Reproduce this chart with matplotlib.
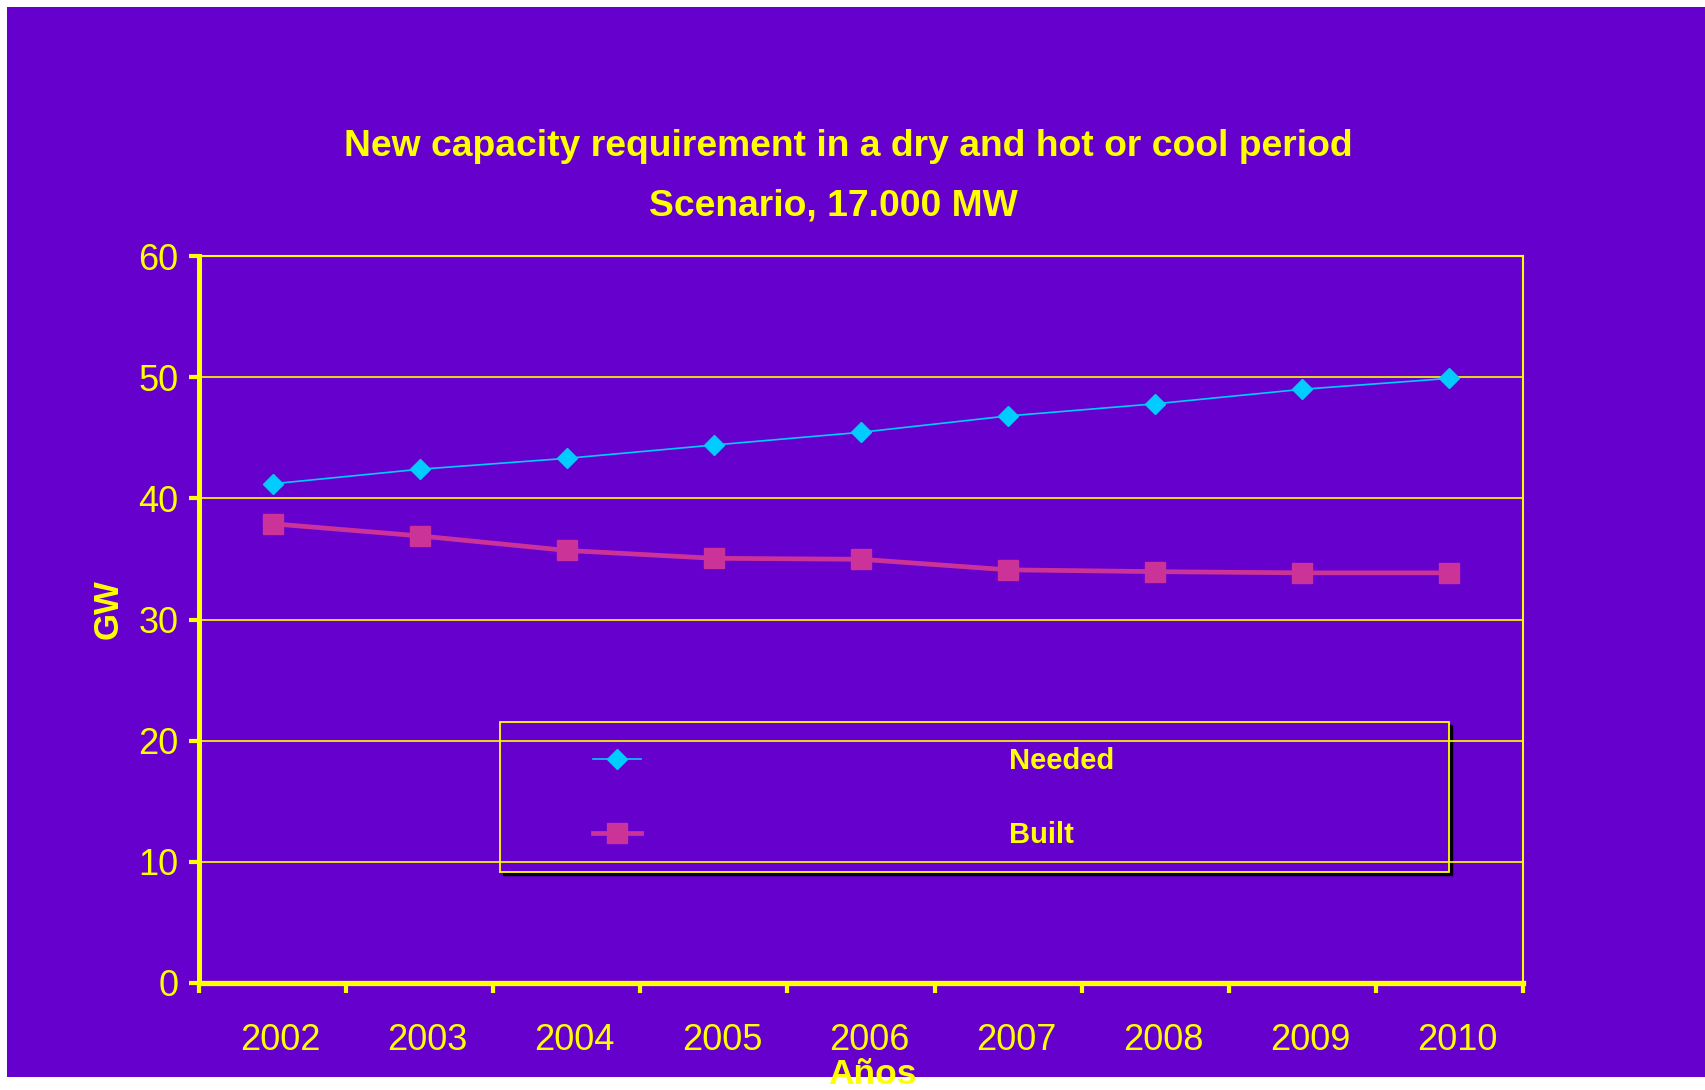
import numpy as np
import matplotlib
matplotlib.use("Agg")
import matplotlib.pyplot as plt
from matplotlib.patches import Rectangle
from matplotlib.transforms import ScaledTranslation

plt.rcParams['font.family'] = ['Liberation Sans', 'DejaVu Sans']

PURPLE = '#6600CC'
YELLOW = '#FFFF00'
CYAN = '#00CCFF'
MAGENTA = '#CC3399'

years = ['2002', '2003', '2004', '2005', '2006', '2007', '2008', '2009', '2010']
needed = [41.2, 42.4, 43.3, 44.4, 45.45, 46.8, 47.8, 49.0, 49.9]
built = [37.9, 36.9, 35.7, 35.05, 34.97, 34.1, 33.95, 33.85, 33.85]
yticks = [0, 10, 20, 30, 40, 50, 60]

W, H = 1705, 1090
fig = plt.figure(figsize=(W / 100, H / 100), dpi=100, facecolor='white')

# purple slide panel behind everything
fig.add_artist(Rectangle((7 / W, 13 / H), (W - 7) / W, 1070 / H,
                         transform=fig.transFigure, facecolor=PURPLE,
                         edgecolor='none', zorder=0))

ax = fig.add_axes([199 / W, 107 / H, 1324 / W, 727 / H])
ax.set_facecolor(PURPLE)

x = np.arange(len(years))
ax.plot(x, needed, color=CYAN, lw=1.2, marker='D', ms=10.5, zorder=3,
        label='Needed')
ax.plot(x, built, color=MAGENTA, lw=3.4, marker='s', ms=13.7, zorder=3,
        label='Built')

ax.set_xlim(-0.5, len(years) - 0.5)
ax.set_ylim(0, 60)

ax.set_xticks(x)
ax.set_xticklabels(years)
ax.set_xticks(np.arange(-0.5, len(years), 1), minor=True)
ax.tick_params(axis='x', which='major', length=0, pad=29, labelsize=26,
               labelcolor=YELLOW)
ax.tick_params(axis='x', which='minor', length=7, width=3, color=YELLOW,
               direction='out')
shift = ScaledTranslation(8 / 100, 0, fig.dpi_scale_trans)
for lbl in ax.get_xticklabels():
    lbl.set_transform(lbl.get_transform() + shift)

ax.set_yticks(yticks)
ax.tick_params(axis='y', length=7, width=3, color=YELLOW, pad=8,
               labelsize=26, labelcolor=YELLOW)

ax.set_axisbelow(False)
ax.yaxis.grid(True, color=YELLOW, lw=1.2)

for side, lw in [('left', 3.6), ('bottom', 3.8), ('top', 1.5), ('right', 1.5)]:
    ax.spines[side].set_color(YELLOW)
    ax.spines[side].set_linewidth(lw)

# legend box with dark drop shadow, gridlines run across it
box = (0.2273, 0.1527)
bw, bh = 0.7168, 0.2063
ax.add_patch(Rectangle(box, bw, bh, facecolor='black', edgecolor='black',
                       transform=ax.transAxes + ScaledTranslation(
                           3 / 100, -3 / 100, fig.dpi_scale_trans),
                       zorder=0.8))
ax.add_patch(Rectangle(box, bw, bh, facecolor=PURPLE, edgecolor=YELLOW,
                       lw=1.3, transform=ax.transAxes, zorder=1))
ax.legend(loc='center left', bbox_to_anchor=(0.2976, 0.2545), frameon=False,
          borderpad=0, borderaxespad=0, handlelength=1.65, handletextpad=12.6,
          labelspacing=1.56, prop={'weight': 'bold', 'size': 21},
          labelcolor=YELLOW)

fig.text(0.4978, 1 - 156.5 / H,
         'New capacity requirement in a dry and hot or cool period',
         ha='center', va='baseline', fontsize=26.8, weight='bold',
         color=YELLOW)
fig.text(0.489, 1 - 215.5 / H, 'Scenario, 17.000 MW', ha='center',
         va='baseline', fontsize=26.8, weight='bold', color=YELLOW)

fig.text(108 / W, 1 - 609 / H, 'GW', rotation=90, ha='center', va='center',
         fontsize=25, weight='bold', color=YELLOW)
fig.text(872 / W, 6 / H, 'Años', ha='center', va='baseline', fontsize=25.5,
         weight='bold', color=YELLOW)

fig.savefig('out.png', dpi=100, facecolor='white')
